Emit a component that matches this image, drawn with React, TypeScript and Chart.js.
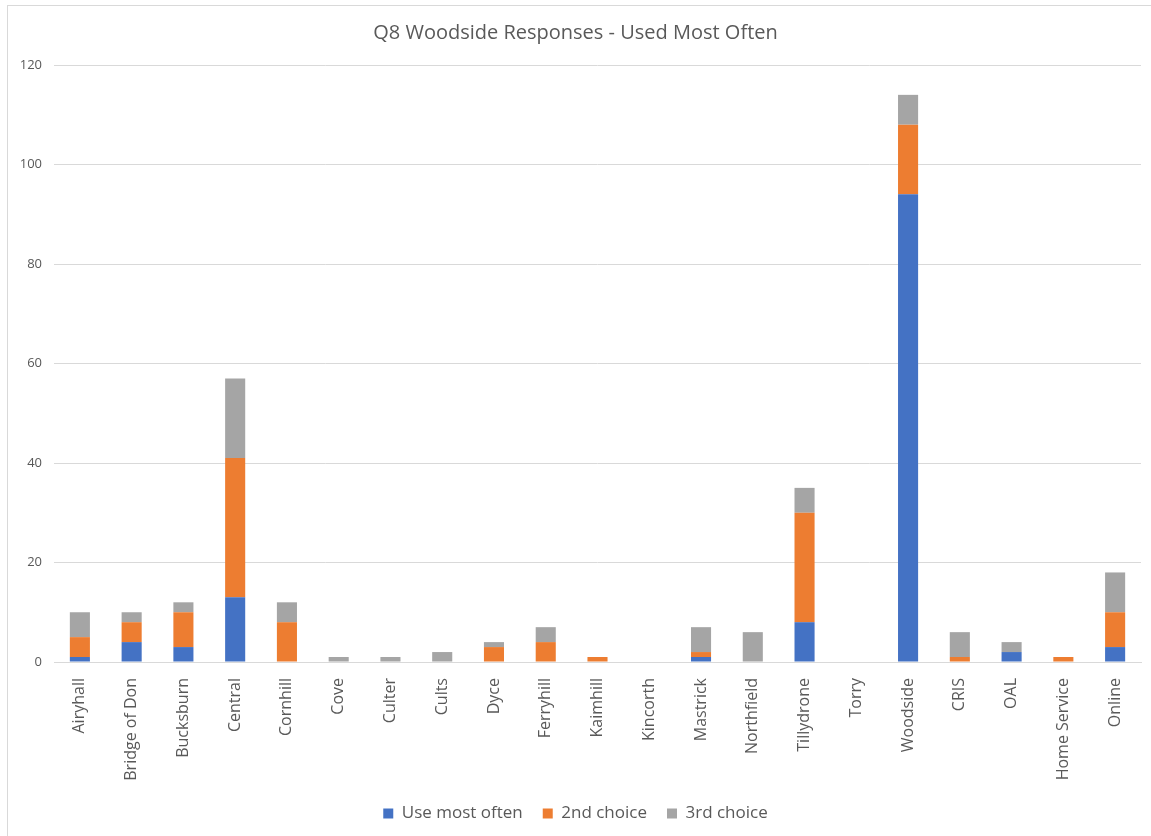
import React, { useEffect, useRef } from "react";
import { Chart, registerables } from "chart.js";

Chart.register(...registerables);

const categories = [
  "Airyhall", "Bridge of Don", "Bucksburn", "Central", "Cornhill", "Cove", "Culter", "Cults",
  "Dyce", "Ferryhill", "Kaimhill", "Kincorth", "Mastrick", "Northfield", "Tillydrone", "Torry",
  "Woodside", "CRIS", "OAL", "Home Service", "Online",
];
const useMostOften = [1, 4, 3, 13, 0, 0, 0, 0, 0, 0, 0, 0, 1, 0, 8, 0, 94, 0, 2, 0, 3];
const secondChoice = [4, 4, 7, 28, 8, 0, 0, 0, 3, 4, 1, 0, 1, 0, 22, 0, 14, 1, 0, 1, 7];
const thirdChoice = [5, 2, 2, 16, 4, 1, 1, 2, 1, 3, 0, 0, 5, 6, 5, 0, 6, 5, 2, 0, 8];
const yTicks = [0, 20, 40, 60, 80, 100, 120];

const FONT = "'Open Sans', 'Noto Sans', sans-serif";
const TEXT = "#595959";

export default function App() {
  const ref = useRef<HTMLCanvasElement | null>(null);
  useEffect(() => {
    if (!ref.current) return;
    const chart = new Chart(ref.current, {
      type: "bar",
      data: {
        labels: categories,
        datasets: [
          { label: "Use most often", data: useMostOften, backgroundColor: "#4472C4" },
          { label: "2nd choice", data: secondChoice, backgroundColor: "#ED7D31" },
          { label: "3rd choice", data: thirdChoice, backgroundColor: "#A5A5A5" },
        ],
      },
      options: {
        animation: false,
        responsive: false,
        maintainAspectRatio: false,
        layout: { padding: { left: 10, right: 10, top: 0, bottom: 4 } },
        datasets: { bar: { barPercentage: 0.4, categoryPercentage: 0.97 } },
        plugins: {
          title: {
            display: true,
            text: "Q8 Woodside Responses - Used Most Often",
            color: TEXT,
            font: { family: FONT, size: 20, weight: "normal" },
            padding: { top: 21, bottom: 20 },
          },
          legend: {
            position: "bottom",
            labels: {
              color: TEXT,
              boxWidth: 10,
              boxHeight: 10,
              padding: 20,
              font: { family: FONT, size: 17 },
            },
          },
          tooltip: { enabled: false },
        },
        scales: {
          x: {
            stacked: true,
            grid: { display: false },
            border: { display: true, color: "#d9d9d9" },
            ticks: {
              color: TEXT,
              font: { family: FONT, size: 16 },
              minRotation: 90,
              maxRotation: 90,
              autoSkip: false,
              padding: 8,
            },
            afterFit: (s: any) => { s.height = 123; },
          },
          y: {
            stacked: true,
            min: 0,
            max: 120,
            afterBuildTicks: (s: any) => { s.ticks = yTicks.map((v) => ({ value: v })); },
            grid: { color: "#d9d9d9", drawTicks: false },
            border: { display: false },
            ticks: {
              color: TEXT,
              font: { family: FONT, size: 13 },
              padding: 12,
            },
            afterFit: (s: any) => { s.width = 44; },
          },
        },
      },
    });
    return () => chart.destroy();
  }, []);
  return (
    <div style={{ position: "fixed", left: 0, top: 0, width: 1151, height: 836, background: "#fff" }}>
      <div style={{ position: "absolute", left: 7, top: 5, width: 1150, height: 840, border: "1px solid #d9d9d9", boxSizing: "border-box" }} />
      <canvas ref={ref} width={1151} height={836} style={{ position: "absolute", left: 0, top: 0 }} />
    </div>
  );
}
